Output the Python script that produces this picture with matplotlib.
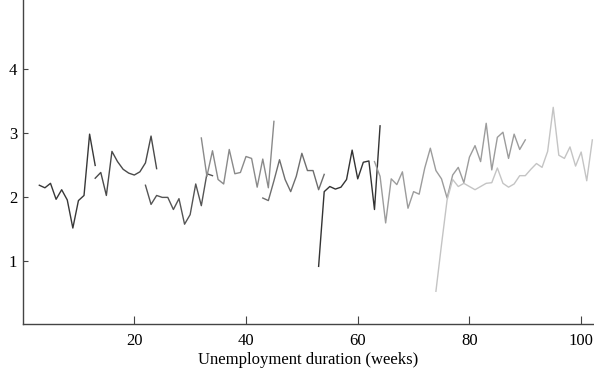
import numpy as np
import matplotlib
matplotlib.use("Agg")
import matplotlib.pyplot as plt

plt.rcParams["font.family"] = ["Liberation Serif", "DejaVu Serif"]

# hazard estimates by cohort, each series starts at its own week
start_1 = 3
haz_1 = [2.18, 2.14, 2.21, 1.96, 2.11, 1.95, 1.51, 1.94, 2.02, 2.98, 2.49]
start_2 = 13
haz_2 = [2.29, 2.38, 2.02, 2.71, 2.55, 2.43, 2.37, 2.34, 2.39, 2.53, 2.95, 2.44]
start_3 = 22
haz_3 = [2.18, 1.88, 2.02, 1.99, 1.99, 1.80, 1.97, 1.57, 1.72, 2.20, 1.86,
         2.36, 2.33]
start_4 = 32
haz_4 = [2.92, 2.32, 2.72, 2.27, 2.20, 2.74, 2.36, 2.38, 2.63, 2.60, 2.15,
         2.59, 2.14, 3.18]
start_5 = 43
haz_5 = [1.98, 1.94, 2.25, 2.58, 2.27, 2.08, 2.32, 2.68, 2.41, 2.41, 2.11,
         2.35]
start_6 = 53
haz_6 = [0.91, 2.08, 2.16, 2.12, 2.15, 2.27, 2.73, 2.28, 2.54, 2.56, 1.80,
         3.11]
start_7 = 63
haz_7 = [2.55, 2.32, 1.59, 2.28, 2.19, 2.39, 1.82, 2.08, 2.04, 2.45, 2.76,
         2.41, 2.28, 1.98, 2.34, 2.46, 2.22, 2.62, 2.80, 2.55, 3.15, 2.42,
         2.93, 3.01, 2.60, 2.98, 2.74, 2.89]
start_8 = 74
haz_8 = [0.52, 1.25, 1.95, 2.27, 2.16, 2.21, 2.16, 2.11, 2.16, 2.21, 2.22,
         2.45, 2.21, 2.15, 2.20, 2.33, 2.33, 2.43, 2.52, 2.46, 2.71, 3.40,
         2.65, 2.60, 2.78, 2.48, 2.70, 2.25, 2.89]

series = [
    (start_1, haz_1, "#383838"),
    (start_2, haz_2, "#4a4a4a"),
    (start_3, haz_3, "#555555"),
    (start_4, haz_4, "#8a8a8a"),
    (start_5, haz_5, "#6e6e6e"),
    (start_6, haz_6, "#333333"),
    (start_7, haz_7, "#9c9c9c"),
    (start_8, haz_8, "#c4c4c4"),
]

fig = plt.figure(figsize=(5.94, 3.69), dpi=100)
ax = fig.add_axes([0.038, 0.1206, 0.962, 0.8794])

for start, vals, col in series:
    weeks = np.arange(start, start + len(vals))
    ax.plot(weeks, vals, color=col, lw=1.0)

ax.set_xlim(0, 102.3)
ax.set_ylim(0, 5.08)
ax.set_xticks([20, 40, 60, 80, 100])
ax.set_yticks([1, 2, 3, 4])

for side in ["top", "right"]:
    ax.spines[side].set_visible(False)
for side in ["left", "bottom"]:
    ax.spines[side].set_color("#444444")
    ax.spines[side].set_linewidth(1.0)

ax.tick_params(axis="x", direction="in", length=5.5, width=0.8,
               color="#444444", labelsize=12, pad=6)
ax.tick_params(axis="y", direction="in", length=3.8, width=0.8,
               color="#444444", labelsize=12, pad=4)
ax.set_xlabel("Unemployment duration (weeks)", fontsize=12, labelpad=2)

fig.savefig("out.png", dpi=100)
